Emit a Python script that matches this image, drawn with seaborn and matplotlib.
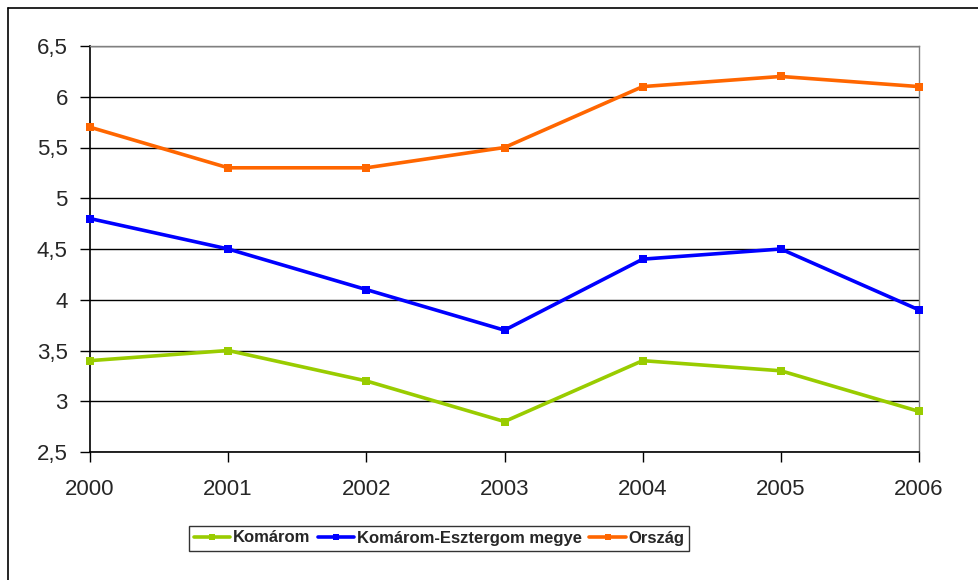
import matplotlib
matplotlib.use("Agg")
import matplotlib.pyplot as plt
import matplotlib.ticker as mticker
from matplotlib.lines import Line2D
import pandas as pd
import seaborn as sns

years = [2000, 2001, 2002, 2003, 2004, 2005, 2006]
komarom = [3.4, 3.5, 3.2, 2.8, 3.4, 3.3, 2.9]
megye = [4.8, 4.5, 4.1, 3.7, 4.4, 4.5, 3.9]
orszag = [5.7, 5.3, 5.3, 5.5, 6.1, 6.2, 6.1]
series_names = ["Komárom", "Komárom-Esztergom megye", "Ország"]
colors = ["#99CC00", "#0000FF", "#FF6600"]
y_ticks = [2.5, 3, 3.5, 4, 4.5, 5, 5.5, 6, 6.5]

df = pd.DataFrame({
    "year": years * 3,
    "value": komarom + megye + orszag,
    "series": [series_names[0]] * 7 + [series_names[1]] * 7 + [series_names[2]] * 7,
})

sns.set_style("white")
plt.rcParams["font.family"] = ["Liberation Sans", "DejaVu Sans"]

fig = plt.figure(figsize=(9.79, 5.80), dpi=100)
ax = fig.add_axes([90 / 979, 1 - 452 / 580, (919 - 90) / 979, (452 - 46) / 580])

sns.lineplot(data=df, x="year", y="value", hue="series", hue_order=series_names,
             palette=colors, marker="s", markersize=6, markeredgewidth=0,
             linewidth=2.6, ax=ax, legend=False, zorder=3)
for line in ax.lines:
    line.set_clip_on(False)

ax.set_xlim(2000, 2006)
ax.set_ylim(2.5, 6.5)
ax.set_xticks(years)
ax.set_yticks(y_ticks)
ax.yaxis.set_major_formatter(mticker.FuncFormatter(lambda v, p: f"{v:g}".replace(".", ",")))
ax.set_xlabel("")
ax.set_ylabel("")
ax.grid(axis="y", color="black", linewidth=1)
ax.tick_params(axis="both", labelsize=16, length=7, width=1, color="black",
               direction="out", left=True, bottom=True)
ax.tick_params(axis="x", pad=12.5)
ax.tick_params(axis="y", pad=9)
for side in ["left", "bottom"]:
    ax.spines[side].set_color("black")
    ax.spines[side].set_linewidth(1.2)
for side in ["top", "right"]:
    ax.spines[side].set_color("#808080")
    ax.spines[side].set_linewidth(1)

handles = [Line2D([0], [0], color=c, linewidth=2.6, marker="s", markersize=5,
                  markeredgewidth=0) for c in colors]
leg = fig.legend(handles, series_names, loc="center", bbox_to_anchor=(439 / 979, 1 - 538 / 580),
                 ncol=3, frameon=True, fancybox=False, edgecolor="black",
                 prop={"weight": "bold", "size": 12}, handlelength=2.2,
                 handletextpad=0.15, columnspacing=0.45, borderpad=0.3)
leg.get_frame().set_linewidth(1)

# outer chart border (left and top visible)
fig.add_artist(Line2D([8.5 / 979, 8.5 / 979], [0, 1 - 7.5 / 580], color="black",
                      linewidth=1.2, transform=fig.transFigure))
fig.add_artist(Line2D([8.5 / 979, 1], [1 - 7.5 / 580, 1 - 7.5 / 580], color="black",
                      linewidth=1.2, transform=fig.transFigure))

fig.savefig("out.png", dpi=100)
